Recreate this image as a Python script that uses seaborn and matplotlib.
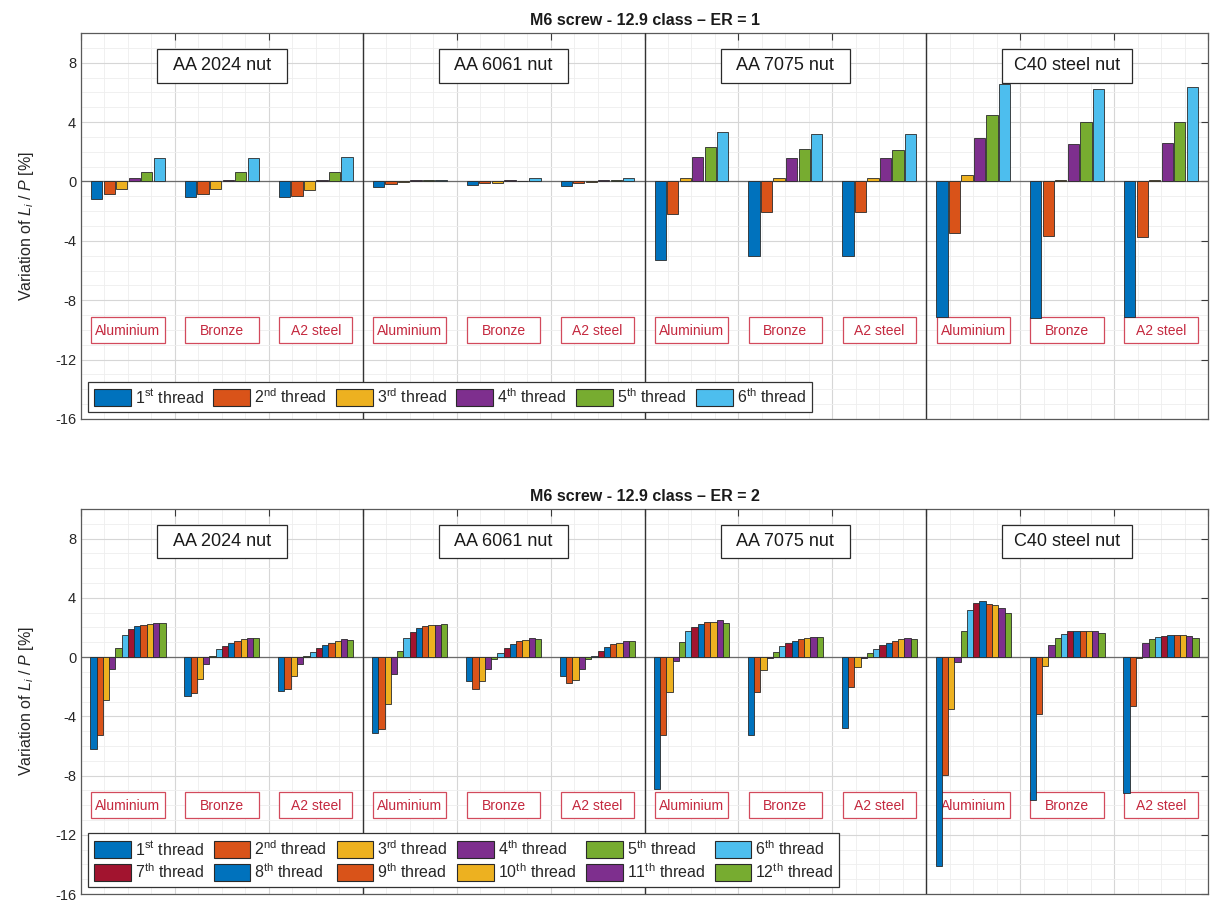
import numpy as np
import pandas as pd
import matplotlib
matplotlib.use("Agg")
import matplotlib.pyplot as plt
import seaborn as sns
from matplotlib.patches import Rectangle
from matplotlib.ticker import MultipleLocator

sns.set_theme(style="white")
plt.rcParams["font.family"] = ["Liberation Sans", "DejaVu Sans"]
plt.rcParams["mathtext.fontset"] = "custom"
plt.rcParams["mathtext.rm"] = "Liberation Sans"
plt.rcParams["mathtext.it"] = "Liberation Sans:italic"
plt.rcParams["axes.unicode_minus"] = False

nuts = ["AA 2024 nut", "AA 6061 nut", "AA 7075 nut", "C40 steel nut"]
screws = ["Aluminium", "Bronze", "A2 steel"]
ordinals = ["st", "nd", "rd", "th", "th", "th", "th", "th", "th", "th", "th", "th"]
thread_labels = [rf"{k}$^{{\mathrm{{{o}}}}}$ thread" for k, o in zip(range(1, 13), ordinals)]
thread_colors = ["#0072BD", "#D95319", "#EDB120", "#7E2F8E", "#77AC30", "#4DBEEE",
                 "#A2142F", "#0072BD", "#D95319", "#EDB120", "#7E2F8E", "#77AC30"]

# ER = 1 : threads 1..6, one row per screw material (Aluminium, Bronze, A2 steel)
er1_aa2024 = [[-1.19, -0.85, -0.52, 0.23, 0.63, 1.60],
              [-1.08, -0.85, -0.54, 0.11, 0.63, 1.58],
              [-1.08, -0.96, -0.60, 0.13, 0.63, 1.67]]
er1_aa6061 = [[-0.35, -0.15, -0.05, 0.12, 0.08, 0.10],
              [-0.22, -0.12, -0.10, 0.08, 0.04, 0.22],
              [-0.30, -0.12, -0.05, 0.12, 0.08, 0.20]]
er1_aa7075 = [[-5.30, -2.18, 0.23, 1.66, 2.34, 3.33],
              [-5.03, -2.07, 0.23, 1.55, 2.22, 3.21],
              [-5.03, -2.07, 0.23, 1.60, 2.13, 3.21]]
er1_c40 = [[-9.15, -3.50, 0.43, 2.92, 4.47, 6.58],
           [-9.20, -3.68, 0.10, 2.49, 4.02, 6.26],
           [-9.15, -3.73, 0.10, 2.56, 4.02, 6.35]]

# ER = 2 : threads 1..12
er2_aa2024 = [[-6.19, -5.23, -2.93, -0.79, 0.61, 1.51, 1.89, 2.09, 2.20, 2.25, 2.27, 2.27],
              [-2.64, -2.45, -1.46, -0.47, 0.05, 0.52, 0.74, 0.97, 1.08, 1.19, 1.28, 1.26],
              [-2.30, -2.18, -1.28, -0.50, 0.05, 0.34, 0.61, 0.79, 0.97, 1.06, 1.19, 1.13]]
er2_aa6061 = [[-5.11, -4.84, -3.20, -1.13, 0.41, 1.31, 1.69, 1.98, 2.09, 2.16, 2.20, 2.23],
              [-1.62, -2.18, -1.62, -0.79, -0.16, 0.29, 0.63, 0.86, 1.08, 1.13, 1.26, 1.22],
              [-1.28, -1.73, -1.55, -0.79, -0.16, 0.07, 0.41, 0.68, 0.86, 0.97, 1.08, 1.10]]
er2_aa7075 = [[-8.94, -5.23, -2.34, -0.27, 1.01, 1.76, 2.05, 2.25, 2.34, 2.34, 2.48, 2.32],
              [-5.23, -2.36, -0.88, -0.05, 0.36, 0.74, 0.92, 1.08, 1.19, 1.28, 1.35, 1.37],
              [-4.77, -2.00, -0.68, -0.03, 0.29, 0.56, 0.79, 0.92, 1.08, 1.19, 1.26, 1.19]]
er2_c40 = [[-14.12, -7.93, -3.54, -0.32, 1.76, 3.18, 3.67, 3.78, 3.60, 3.49, 3.31, 3.00],
           [-9.66, -3.83, -0.61, 0.81, 1.28, 1.58, 1.73, 1.76, 1.76, 1.76, 1.76, 1.60],
           [-9.17, -3.31, -0.05, 0.92, 1.24, 1.37, 1.42, 1.46, 1.46, 1.46, 1.42, 1.31]]

panels = [
    ("M6 screw - 12.9 class \u2013 ER = 1", [er1_aa2024, er1_aa6061, er1_aa7075, er1_c40]),
    ("M6 screw - 12.9 class \u2013 ER = 2", [er2_aa2024, er2_aa6061, er2_aa7075, er2_c40]),
]

slots = [f"{n} | {s}" for n in nuts for s in screws]


def long_table(blocks):
    rows = []
    for nut, block in zip(nuts, blocks):
        for screw, vals in zip(screws, block):
            for k, v in enumerate(vals):
                rows.append({"slot": f"{nut} | {screw}", "thread": thread_labels[k], "value": v})
    return pd.DataFrame(rows)


W, H = 1211, 902
fig = plt.figure(figsize=(W / 100, H / 100), dpi=100)
ax_top = fig.add_axes([81 / W, 1 - 419 / H, (1208 - 81) / W, (419 - 33) / H])
ax_bot = fig.add_axes([81 / W, 1 - 894 / H, (1208 - 81) / W, (894 - 509) / H])

axis_col = "#3a3a3a"
red_txt = "#C4283E"
red_edge = "#D24A5C"

for ax, (title, blocks) in zip([ax_top, ax_bot], panels):
    df = long_table(blocks)
    n_thr = len(blocks[0][0])
    hue_order = thread_labels[:n_thr]
    sns.barplot(data=df, x="slot", y="value", hue="thread", order=slots,
                hue_order=hue_order, palette=thread_colors[:n_thr], saturation=1,
                errorbar=None, width=0.8, gap=0.1 if n_thr == 6 else 0.0,
                edgecolor="#2a2a2a", linewidth=0.6, ax=ax, zorder=3)

    ax.set_xlim(-0.5, len(slots) - 0.5)
    ax.set_ylim(-16, 10)
    ax.set_xticks(np.arange(-0.5, len(slots), 1.0))
    ax.set_xticklabels([])
    ax.xaxis.set_minor_locator(MultipleLocator(0.25))
    ax.set_yticks(np.arange(-16, 9, 4))
    ax.yaxis.set_minor_locator(MultipleLocator(1))
    ax.set_xlabel("")
    ax.set_ylabel(r"Variation of $L_i$ / $P$ [%]", fontsize=11.5, color="#262626", labelpad=14)
    ax.set_title(title, fontsize=11.5, fontweight="bold", color="#1a1a1a", pad=6)

    ax.set_axisbelow(True)
    ax.grid(True, which="major", color="#d6d6d6", lw=0.8, zorder=0)
    ax.grid(True, which="minor", color="#eeeeee", lw=0.6, zorder=0)
    ax.tick_params(axis="both", which="major", direction="in", length=5, width=0.8,
                   color=axis_col, top=True, right=True, labelsize=10.5, labelcolor="#262626")
    ax.tick_params(axis="both", which="minor", length=0)
    for sp in ax.spines.values():
        sp.set_color("#5a5a5a")
        sp.set_linewidth(0.9)

    # baseline and nut separators
    ax.axhline(0, color="#6b6b6b", lw=0.9, zorder=2)
    for xs in (2.5, 5.5, 8.5):
        ax.axvline(xs, color="#333333", lw=1.0, zorder=4)

    # nut name boxes
    for g, nut in enumerate(nuts):
        cx = 3 * g + 1
        ax.add_patch(Rectangle((cx - 0.69, 6.66), 1.38, 2.24, facecolor="white",
                               edgecolor="#2a2a2a", lw=0.9, zorder=5))
        ax.text(cx, 7.78, nut, ha="center", va="center", fontsize=13, color="#1a1a1a", zorder=6)

    # screw material boxes
    for i, slot in enumerate(slots):
        screw = slot.split(" | ")[1]
        ax.add_patch(Rectangle((i - 0.39, -10.88), 0.78, 1.76, facecolor="white",
                               edgecolor=red_edge, lw=0.9, zorder=1))
        ax.text(i, -10.05, screw, ha="center", va="center", fontsize=10, color=red_txt, zorder=1.5)

    # legend
    leg = ax.get_legend()
    handles = list(leg.legend_handles)
    labels = [t.get_text() for t in leg.get_texts()]
    leg.remove()
    if n_thr == 12:
        idx = [0, 6, 1, 7, 2, 8, 3, 9, 4, 10, 5, 11]
        handles = [handles[i] for i in idx]
        labels = [labels[i] for i in idx]
    new_leg = ax.legend(handles, labels, loc="lower left", ncol=6, fontsize=11.5,
                        frameon=True, fancybox=False, edgecolor="#333333", framealpha=1,
                        handlelength=2.3, handleheight=1.25, handletextpad=0.25,
                        columnspacing=0.6, borderpad=0.35, borderaxespad=0.45,
                        labelspacing=0.3)
    new_leg.set_zorder(10)
    new_leg.get_frame().set_linewidth(0.9)
    for h in new_leg.legend_handles:
        h.set_edgecolor("#2a2a2a")
        h.set_linewidth(0.8)

fig.savefig("out.png", dpi=100)
